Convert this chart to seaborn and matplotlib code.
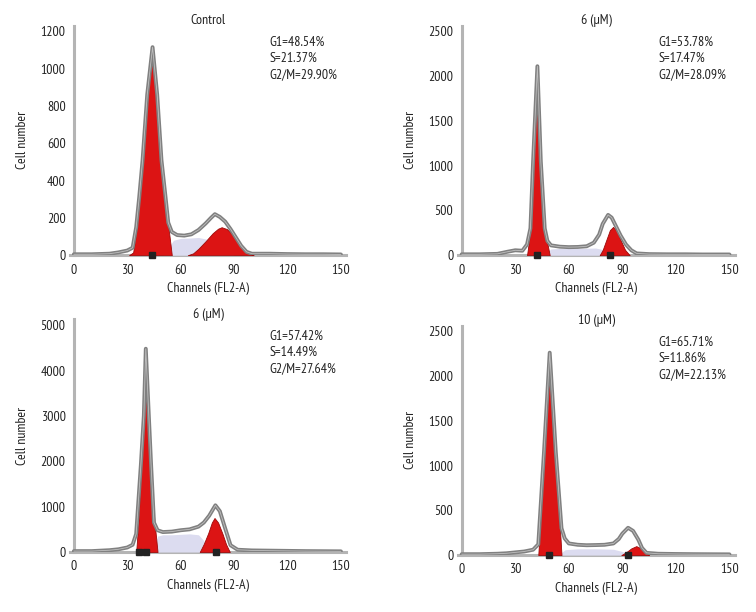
import numpy as np
import seaborn as sns
import matplotlib.pyplot as plt
from matplotlib.ticker import MultipleLocator

sns.set_style('white')
plt.rcParams['font.family'] = ['PT Sans Narrow', 'DejaVu Sans']

# ---------- data ----------
titles = ['Control', '6 (\u00b5M)', '6 (\u00b5M)', '10 (\u00b5M)']
stats = [('48.54', '21.37', '29.90'),
         ('53.78', '17.47', '28.09'),
         ('57.42', '14.49', '27.64'),
         ('65.71', '11.86', '22.13')]
ymax = [1200, 2500, 5000, 2500]
ystep = [200, 500, 1000, 500]

# Control
ch_ctrl = [0, 10, 20, 25, 30, 33, 35, 36.7, 38.6, 41.2, 44.2, 46.8, 49.2, 51.5, 53, 55, 58, 62, 66, 70,
           74, 77, 79.2, 82, 85, 88, 91, 94, 97, 100, 110, 120, 130, 140, 150]
tot_ctrl = [5, 5, 8, 15, 25, 40, 150, 310, 510, 860, 1115, 860, 510, 310, 175, 125, 108, 105, 112, 135,
            170, 200, 220, 205, 180, 140, 95, 50, 18, 8, 8, 6, 5, 5, 4]
g1_ch_ctrl = [31, 33.3, 35, 36.7, 38.6, 41.2, 44.2, 46.8, 49.2, 51.7, 53.5, 55]
g1_ctrl = [0, 15, 120, 297, 493, 848, 1065, 848, 493, 297, 120, 0]
g2_ch_ctrl = [64, 67, 70, 74, 78, 81, 83, 86, 89, 92, 95, 98, 101]
g2_ctrl = [0, 10, 35, 75, 118, 142, 150, 140, 112, 75, 40, 12, 0]
s_ch_ctrl = [50, 53, 56, 60, 65, 70, 75, 80, 85, 90]
s_ctrl = [0, 40, 80, 90, 92, 95, 85, 60, 25, 0]
mk_ctrl = [44]

# 6 uM (top)
ch_6a = [0, 10, 20, 26, 30, 34, 36.6, 38.5, 40, 42.4, 44.3, 46.5, 48, 50, 55, 60, 65, 70, 74, 77,
         79, 82, 84, 86, 89, 92, 95, 98, 105, 115, 125, 135, 150]
tot_6a = [10, 10, 15, 40, 55, 50, 120, 300, 1050, 2110, 1050, 300, 160, 110, 95, 90, 92, 100, 140, 230,
          350, 450, 420, 340, 220, 120, 55, 20, 12, 10, 10, 8, 8]
g1_ch_6a = [36.6, 38.5, 40, 42.4, 44.3, 46.5, 49.3]
g1_6a = [0, 279, 1023, 2010, 1023, 279, 0]
g2_ch_6a = [77.3, 79, 81, 83, 84.8, 87, 89, 91.5, 94.1]
g2_6a = [0, 60, 170, 280, 316, 270, 170, 60, 0]
s_ch_6a = [46, 50, 55, 60, 65, 70, 75, 80, 84]
s_6a = [0, 70, 75, 75, 75, 78, 80, 60, 0]
mk_6a = [42, 83]

# 6 uM (bottom)
ch_6b = [0, 10, 20, 25, 30, 33, 35, 37.6, 39.3, 40.4, 42.1, 43.4, 45, 47, 50, 55, 60, 65, 70, 73,
         76, 79.5, 82, 85, 88, 92, 100, 110, 120, 130, 150]
tot_6b = [20, 20, 40, 60, 100, 160, 400, 1900, 3000, 4480, 3000, 1900, 650, 480, 440, 450, 480, 500, 560, 650,
          800, 1030, 900, 520, 150, 50, 35, 30, 25, 20, 15]
g1_ch_6b = [35, 36.3, 37.6, 39.3, 40.6, 42.1, 43.4, 45.2, 47]
g1_6b = [0, 700, 1810, 2910, 3460, 2910, 1810, 700, 0]
g2_ch_6b = [70.7, 73, 75.5, 77.5, 79, 81, 83.5, 85.5, 87.6]
g2_6b = [0, 180, 420, 650, 750, 650, 400, 170, 0]
s_ch_6b = [44, 47, 50, 55, 60, 65, 70, 73, 76]
s_6b = [0, 350, 380, 380, 390, 400, 380, 250, 0]
mk_6b = [36.5, 40.5, 80]

# 10 uM
ch_10 = [0, 10, 20, 25, 30, 35, 40, 42.9, 46.1, 49.3, 52.7, 55.9, 57.7, 60, 65, 70, 75, 80, 85, 88,
         90, 93.2, 96, 99, 101, 103.5, 110, 120, 130, 150]
tot_10 = [10, 10, 15, 20, 30, 40, 60, 120, 1150, 2260, 1150, 300, 186, 130, 115, 110, 112, 115, 130, 180,
          240, 305, 270, 170, 80, 25, 15, 12, 10, 8]
g1_ch_10 = [42.9, 44.5, 46.1, 49.3, 52.7, 54.3, 55.9]
g1_10 = [0, 550, 1135, 2090, 1135, 550, 0]
g2_ch_10 = [89.4, 92, 95, 97.8, 100, 102.5, 105]
g2_10 = [0, 30, 75, 100, 80, 35, 0]
s_ch_10 = [54, 58, 65, 75, 85, 90, 94]
s_10 = [0, 60, 70, 70, 65, 40, 0]
mk_10 = [49, 93]

panels = [
    (ch_ctrl, tot_ctrl, g1_ch_ctrl, g1_ctrl, g2_ch_ctrl, g2_ctrl, s_ch_ctrl, s_ctrl, mk_ctrl),
    (ch_6a, tot_6a, g1_ch_6a, g1_6a, g2_ch_6a, g2_6a, s_ch_6a, s_6a, mk_6a),
    (ch_6b, tot_6b, g1_ch_6b, g1_6b, g2_ch_6b, g2_6b, s_ch_6b, s_6b, mk_6b),
    (ch_10, tot_10, g1_ch_10, g1_10, g2_ch_10, g2_10, s_ch_10, s_10, mk_10),
]

# axes boxes in figure fractions [left, bottom, width, height]
boxes = [[0.093, 0.583, 0.365, 0.375],
         [0.606, 0.583, 0.366, 0.375],
         [0.093, 0.098, 0.365, 0.380],
         [0.606, 0.093, 0.366, 0.375]]

red = '#dc1414'
dark_red = '#9c0a0a'
grey = '#808080'
lav = '#dcdcf0'
axis_col = '#b4b4b4'
txt = '#222222'

fig = plt.figure(figsize=(7.56, 6.12), dpi=100)

for i, (ch, tot, g1x, g1, g2x, g2, sx, s, mk) in enumerate(panels):
    ax = fig.add_axes(boxes[i])

    ax.fill_between(sx, s, color=lav, lw=0, zorder=1)
    ax.fill_between(g1x, g1, color=red, edgecolor=dark_red, lw=0.6, zorder=2)
    ax.fill_between(g2x, g2, color=red, edgecolor=dark_red, lw=0.6, zorder=2)
    sns.lineplot(x=ch, y=tot, ax=ax, color=grey, lw=2.8, sort=False, estimator=None, zorder=3)
    sns.lineplot(x=ch, y=tot, ax=ax, color='white', lw=0.6, sort=False, estimator=None, zorder=3, alpha=0.5)
    ax.plot(mk, [0] * len(mk), 's', color=txt, ms=4, clip_on=False, zorder=4)

    ax.set_xlim(-2, 153)
    ax.set_ylim(0, ymax[i] * 1.025)
    ax.set_xticks([0, 30, 60, 90, 120, 150])
    ax.set_yticks(np.arange(0, ymax[i] + 1, ystep[i]))
    ax.xaxis.set_minor_locator(MultipleLocator(7.5))
    ax.yaxis.set_minor_locator(MultipleLocator(ymax[i] / 30))

    for side in ['top', 'right']:
        ax.spines[side].set_visible(False)
    for side in ['left', 'bottom']:
        ax.spines[side].set_color(axis_col)
        ax.spines[side].set_linewidth(2.2)
        ax.spines[side].set_zorder(0)
    ax.spines['left'].set_position(('data', 0))

    ax.tick_params(which='both', direction='inout', color=axis_col, width=1.4)
    ax.tick_params(which='major', length=4, labelsize=10, pad=4, labelcolor=txt)
    ax.tick_params(which='minor', length=3)

    ax.set_xlabel('Channels (FL2-A)', fontsize=10, labelpad=4, color=txt)
    ax.set_ylabel('Cell number', fontsize=10, labelpad=8, color=txt)
    ax.set_title(titles[i], fontsize=10, pad=1, color=txt)

    g1s, ss, g2s = stats[i]
    ax.text(0.723, 0.955, f'G1={g1s}%\nS={ss}%\nG2/M={g2s}%', transform=ax.transAxes,
            ha='left', va='top', fontsize=10, linespacing=1.3, color=txt)

fig.savefig('out.png', dpi=100)
